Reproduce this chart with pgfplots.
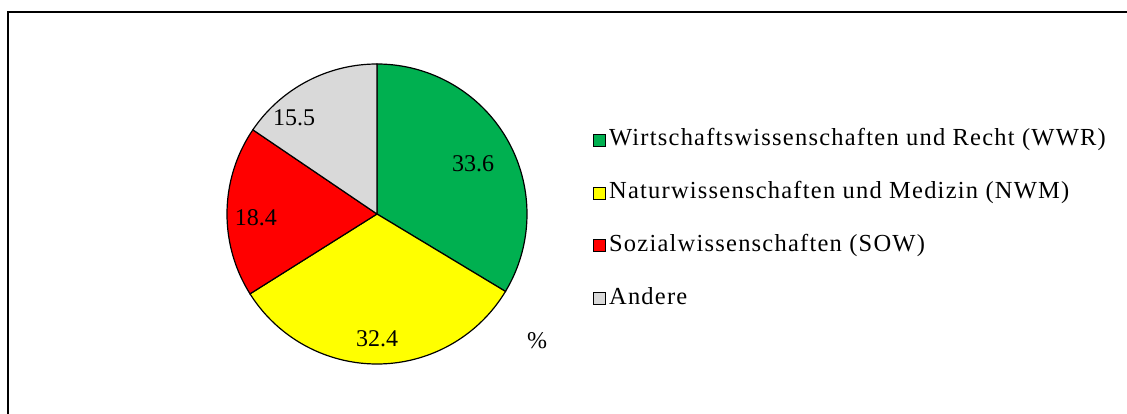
\documentclass[border=0pt]{standalone}
\usepackage{fontspec}
\setmainfont{Liberation Serif}
\newfontfamily\legfont{Liberation Serif}[LetterSpace=5]
\usepackage{pgfplots}
\pgfplotsset{compat=1.18}
\definecolor{cgreen}{RGB}{0,176,80}
\definecolor{cyellow}{RGB}{255,255,0}
\definecolor{cred}{RGB}{255,0,0}
\definecolor{cgray}{RGB}{217,217,217}
\begin{document}
\begin{tikzpicture}
\useasboundingbox (0,0) rectangle (1127bp,414bp);
\draw[line width=2.5bp] (8bp,0) -- (8bp,402bp) -- (1127bp,402bp);
% shares in percent
\def\vA{33.6}\def\vB{32.4}\def\vC{18.4}\def\vD{15.5}
\pgfmathsetmacro{\tot}{\vA+\vB+\vC+\vD}
\pgfmathsetmacro{\aA}{90}
\pgfmathsetmacro{\aB}{\aA-360*\vA/\tot}
\pgfmathsetmacro{\aC}{\aB-360*\vB/\tot}
\pgfmathsetmacro{\aD}{\aC-360*\vC/\tot}
\pgfmathsetmacro{\aE}{\aD-360*\vD/\tot}
\begin{axis}[scale only axis, width=300bp, height=300bp,
  xmin=-1, xmax=1, ymin=-1, ymax=1, hide axis, clip=false,
  at={(227bp,50bp)}, anchor=south west,
  legend image code/.code={\draw[#1,draw=black,line width=0.9bp] (0bp,-6bp) rectangle (12bp,6bp);},
  legend style={at={(axis cs:1.44,-0.037)}, anchor=west, draw=none, fill=none,
    inner sep=0pt, row sep=31.7bp,
    font=\legfont\fontsize{24.5bp}{28bp}\selectfont,
    cells={anchor=west},
    nodes={inner sep=0pt, text height=16bp, text depth=5bp},
    /tikz/every odd column/.append style={column sep=3bp}},
  legend cell align=left]
\addplot[fill=cgreen, draw=black, line width=1.2bp, domain=\aB:\aA, samples=120] ({cos(x)},{sin(x)}) -- (axis cs:0,0) -- cycle;
\addlegendentry{Wirtschaftswissenschaften und Recht (WWR)}
\addplot[fill=cyellow, draw=black, line width=1.2bp, domain=\aC:\aB, samples=120] ({cos(x)},{sin(x)}) -- (axis cs:0,0) -- cycle;
\addlegendentry{Naturwissenschaften und Medizin (NWM)}
\addplot[fill=cred, draw=black, line width=1.2bp, domain=\aD:\aC, samples=80] ({cos(x)},{sin(x)}) -- (axis cs:0,0) -- cycle;
\addlegendentry{Sozialwissenschaften (SOW)}
\addplot[fill=cgray, draw=black, line width=1.2bp, domain=\aE:\aD, samples=80] ({cos(x)},{sin(x)}) -- (axis cs:0,0) -- cycle;
\addlegendentry{Andere}
\begin{scope}[font=\fontsize{24bp}{28bp}\selectfont]
\node at (axis cs:0.64,0.337) {\vA};
\node at (axis cs:0,-0.83) {\vB};
\node at (axis cs:-0.807,-0.023) {\vC};
\node at (axis cs:-0.553,0.643) {\vD};
\node at (axis cs:1.067,-0.843) {\%};
\end{scope}
\end{axis}
\end{tikzpicture}
\end{document}
